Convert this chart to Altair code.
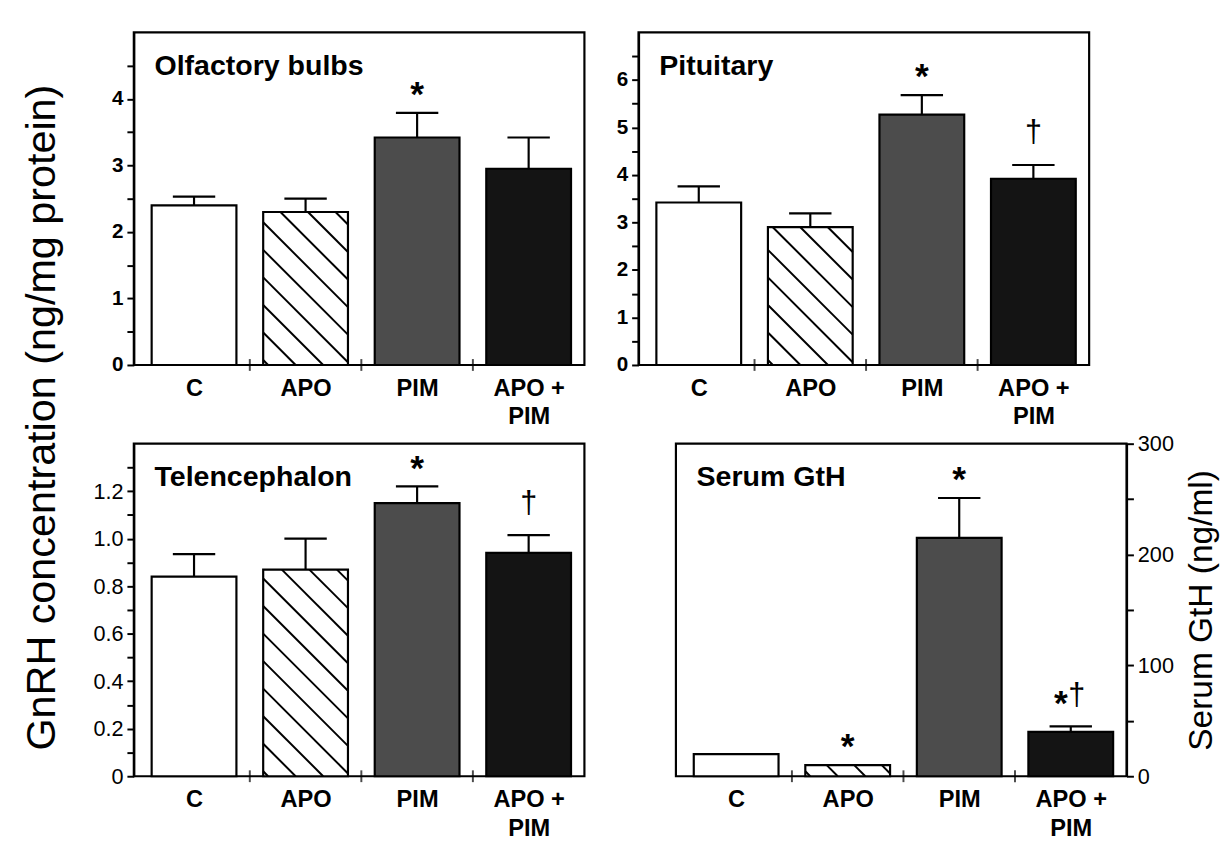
import altair as alt
import pandas as pd

FONT = "Liberation Sans"

# Treatment groups (x categories)
groups = ["C", "APO", "PIM", "APO + PIM"]
group_fill = ["#ffffff", "#ffffff", "#4c4c4c", "#141414"]

# GnRH, olfactory bulbs (ng/mg protein): mean and SEM
olf_mean = [2.40, 2.30, 3.42, 2.95]
olf_sem = [0.13, 0.20, 0.37, 0.47]
olf_star = [False, False, True, False]
olf_dagger = [False, False, False, False]

# GnRH, pituitary (ng/mg protein)
pit_mean = [3.42, 2.90, 5.27, 3.92]
pit_sem = [0.34, 0.29, 0.41, 0.29]
pit_star = [False, False, True, False]
pit_dagger = [False, False, False, True]

# GnRH, telencephalon (ng/mg protein)
tel_mean = [0.84, 0.87, 1.15, 0.94]
tel_sem = [0.095, 0.13, 0.07, 0.075]
tel_star = [False, False, True, False]
tel_dagger = [False, False, False, True]

# Serum GtH (ng/ml)
gth_mean = [20, 10, 215, 40]
gth_sem = [0, 0, 36, 5]
gth_star = [False, True, True, True]
gth_dagger = [False, False, False, True]

PANEL_W, PANEL_H = 458, 338
X_MIN, X_MAX = -0.54, 3.5
HALF = 0.38       # half bar width, in category units
CAP = 0.19        # half error-cap width
HATCH_GAP = 28    # vertical distance between hatch lines, px

LABEL_EXPR = "['C', 'APO', 'PIM', ['APO +', 'PIM']][datum.value]"


def hatch_frame(height, ymax):
    """Diagonal hatch segments clipped to the APO bar (index 1)."""
    m = PANEL_W / (X_MAX - X_MIN)
    k = PANEL_H / ymax
    bw = 2 * HALF * m
    bh = height * k
    rows = []
    c = 5.0
    while c < bw + bh:
        u0 = max(0.0, c - bh)
        u1 = min(bw, c)
        if u1 > u0:
            rows.append({
                "hx": 1 - HALF + u0 / m, "hy": (c - u0) / k,
                "hx2": 1 - HALF + u1 / m, "hy2": (c - u1) / k,
            })
        c += HATCH_GAP
    return pd.DataFrame(rows)


def panel(title, mean, sem, star, dagger, ymax, ticks, label_expr,
          y_label_size, y_label_weight, y_orient="left", y_title=None):
    df = pd.DataFrame({
        "i": list(range(len(groups))),
        "group": groups,
        "mean": mean,
        "sem": sem,
        "star": star,
        "dagger": dagger,
    })
    df["base"] = 0.0
    df["top"] = df["mean"] + df["sem"]
    df["x0"] = df["i"] - HALF
    df["x1"] = df["i"] + HALF
    df["c0"] = df["i"] - CAP
    df["c1"] = df["i"] + CAP

    xs = alt.Scale(domain=[X_MIN, X_MAX], nice=False, zero=False)
    ys = alt.Scale(domain=[0, ymax], nice=False, zero=True)

    xaxis = alt.Axis(values=[0, 1, 2, 3], labelExpr=LABEL_EXPR, ticks=False,
                     domain=False, title=None, labelFontSize=24,
                     labelFontWeight="bold", labelLineHeight=29,
                     labelPadding=12, labelFlush=False, labelOverlap=False,
                     labelBound=False, labelBaseline="top")
    yargs = dict(values=ticks, labelExpr=label_expr, orient=y_orient,
                 labelFontSize=y_label_size, labelFontWeight=y_label_weight,
                 labelPadding=4, labelFlush=False, labelOverlap=False,
                 domain=True, title=y_title)
    if y_title:
        yargs.update(titleFontSize=34, titleFontWeight="normal",
                     titleAngle=270, titleBaseline="top", titlePadding=12)
    yaxis = alt.Axis(**yargs)

    X = lambda f: alt.X(f, scale=xs, axis=xaxis)
    Y = lambda f: alt.Y(f, scale=ys, axis=yaxis)

    bars = alt.Chart(df).mark_rect(stroke="black", strokeWidth=2.2).encode(
        x=X("x0:Q"), x2="x1:Q", y=Y("base:Q"), y2="mean:Q",
        fill=alt.Fill("group:N", scale=alt.Scale(domain=groups, range=group_fill),
                      legend=None),
    )

    hatch = alt.Chart(hatch_frame(mean[1], ymax)).mark_rule(
        color="black", strokeWidth=2
    ).encode(x=X("hx:Q"), x2="hx2:Q", y=Y("hy:Q"), y2="hy2:Q")

    err_df = df[df["sem"] > 0]
    stem = alt.Chart(err_df).mark_rule(color="black", strokeWidth=2.2).encode(
        x=X("i:Q"), y=Y("mean:Q"), y2="top:Q")
    cap = alt.Chart(err_df).mark_rule(color="black", strokeWidth=2.2).encode(
        x=X("c0:Q"), x2="c1:Q", y=Y("top:Q"))

    # tick marks on the category boundaries of the x axis
    bounds = pd.DataFrame({"b": [i + 0.5 for i in range(len(groups) - 1)], "zero": 0.0})
    sep = alt.Chart(bounds).mark_tick(orient="vertical", size=12, thickness=2,
                                      color="black").encode(
        x=X("b:Q"), y=Y("zero:Q"))

    layers = [bars, hatch, stem, cap, sep]

    def sym(rows, text, dx, dy, size, weight):
        return alt.Chart(rows).mark_text(
            text=text, dx=dx, dy=dy, fontSize=size, fontWeight=weight,
            font=FONT, baseline="middle", align="center", color="black"
        ).encode(x=X("i:Q"), y=Y("top:Q"))

    star_only = df[df["star"] & ~df["dagger"]]
    dagger_only = df[df["dagger"] & ~df["star"]]
    both = df[df["star"] & df["dagger"]]
    if len(star_only):
        layers.append(sym(star_only, "*", 0, -18, 36, "bold"))
    if len(dagger_only):
        layers.append(sym(dagger_only, "†", 0, -32, 31, "normal"))
    if len(both):
        layers.append(sym(both, "*", -10, -23, 36, "bold"))
        layers.append(sym(both, "†", 6, -31, 31, "normal"))

    label = alt.Chart(pd.DataFrame({"t": [title]})).mark_text(
        align="left", baseline="alphabetic", fontSize=29, fontWeight="bold",
        font=FONT, color="black"
    ).encode(x=alt.value(21), y=alt.value(43), text="t:N")
    layers.append(label)

    return alt.layer(*layers).properties(width=PANEL_W, height=PANEL_H)


half_steps = lambda top: [i * 0.5 for i in range(int(top * 2) + 1)]
int_labels = "datum.value % 1 == 0 ? format(datum.value, 'd') : ''"

p1 = panel("Olfactory bulbs", olf_mean, olf_sem, olf_star, olf_dagger, 5,
           half_steps(4.5), int_labels, 21, "bold")
p2 = panel("Pituitary", pit_mean, pit_sem, pit_star, pit_dagger, 7,
           half_steps(6.5), int_labels, 21, "bold")
p3 = panel("Telencephalon", tel_mean, tel_sem, tel_star, tel_dagger, 1.4,
           [round(i * 0.1, 1) for i in range(14)],
           "round(datum.value * 10) % 2 == 0 ? (datum.value == 0 ? '0' : format(datum.value, '.1f')) : ''",
           22, "normal")
p4 = panel("Serum GtH", gth_mean, gth_sem, gth_star, gth_dagger, 300,
           [i * 50 for i in range(7)],
           "datum.value % 100 == 0 ? format(datum.value, 'd') : ''",
           22, "normal", y_orient="right", y_title="Serum GtH (ng/ml)")

row1 = alt.hconcat(p1, p2, spacing=29)
row2 = alt.hconcat(p3, p4, spacing=89)

chart = alt.vconcat(
    row1, row2, spacing=0,
    title=alt.TitleParams("GnRH concentration (ng/mg protein)", orient="left",
                          anchor="middle", fontSize=42, fontWeight="normal",
                          font=FONT, offset=28, dx=19),
).properties(
    padding={"left": 22, "top": 24, "right": 0, "bottom": 0},
).configure_view(
    stroke="black", strokeWidth=2.2
).configure_axis(
    domainColor="black", domainWidth=2.2, tickColor="black", tickWidth=2,
    tickSize=7, labelColor="black", labelFont=FONT, titleFont=FONT,
    titleColor="black", grid=False,
).configure_title(font=FONT, color="black")

chart.save("out.html", embed_options={"renderer": "svg", "actions": False})
